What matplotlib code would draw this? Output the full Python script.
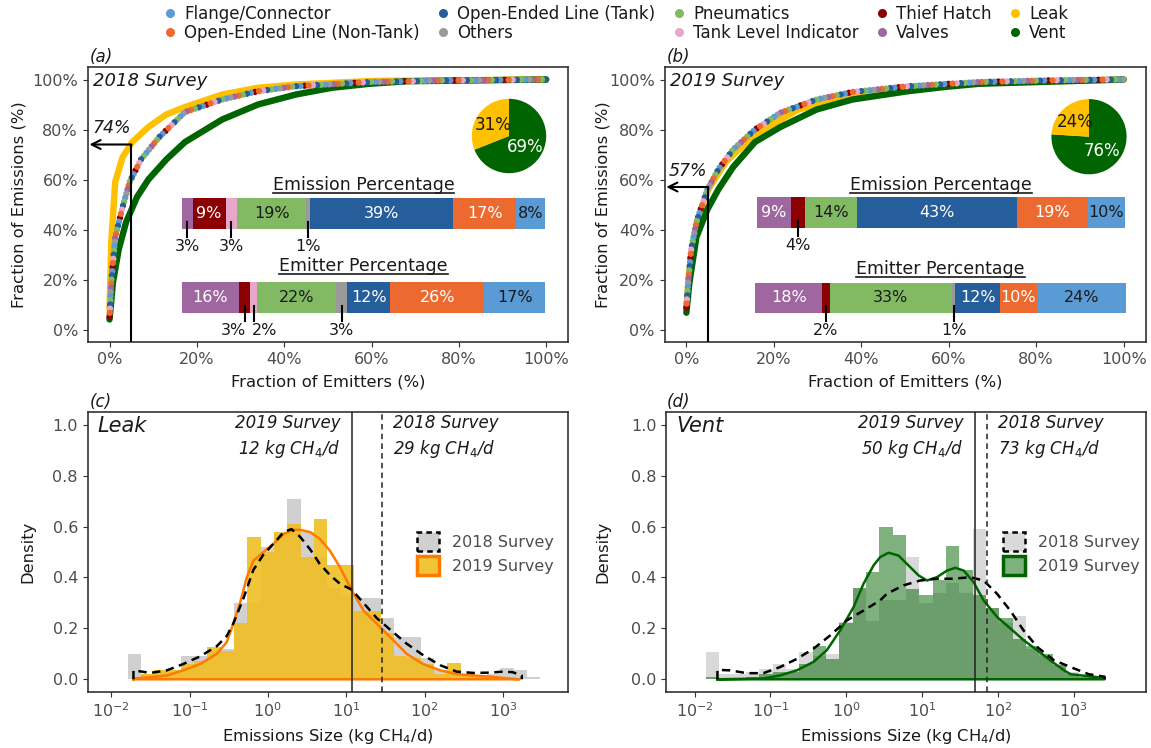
import numpy as np
import matplotlib
matplotlib.use('Agg')
import matplotlib.pyplot as plt
from matplotlib.lines import Line2D
from matplotlib.patches import Patch
from matplotlib.transforms import IdentityTransform
from matplotlib.colors import to_rgba

plt.rcParams['font.family'] = ['DejaVu Sans']
plt.rcParams['lines.scale_dashes'] = False
plt.rcParams['mathtext.default'] = 'it'

# ---- categories / colours ----
legend_names = ['Flange/Connector', 'Open-Ended Line (Non-Tank)', 'Open-Ended Line (Tank)',
                'Others', 'Pneumatics', 'Tank Level Indicator', 'Thief Hatch', 'Valves',
                'Leak', 'Vent']
colors = {'Flange/Connector': '#5B9BD5', 'Open-Ended Line (Non-Tank)': '#EC6A2F',
          'Open-Ended Line (Tank)': '#265E9B', 'Others': '#9A9A9A', 'Pneumatics': '#82BA63',
          'Tank Level Indicator': '#E9A6CB', 'Thief Hatch': '#8B0000', 'Valves': '#9E679F',
          'Leak': '#FFC000', 'Vent': '#006400'}
dark = {'Open-Ended Line (Non-Tank)', 'Open-Ended Line (Tank)', 'Thief Hatch', 'Valves'}

# stacked bars, left to right
bar_order = ['Valves', 'Thief Hatch', 'Tank Level Indicator', 'Pneumatics', 'Others',
             'Open-Ended Line (Tank)', 'Open-Ended Line (Non-Tank)', 'Flange/Connector']
emission_2018 = [3, 9, 3, 19, 1, 39, 17, 8]
emitter_2018 = [16, 3, 2, 22, 3, 12, 26, 17]
emission_2019 = [9, 4, 0, 14, 0, 43, 19, 10]
emitter_2019 = [18, 2, 0, 33, 1, 12, 10, 24]

# leak / vent share of emissions
pie_2018 = [69, 31]   # vent, leak
pie_2019 = [76, 24]

# cumulative emission curves: % of emitters vs % of emissions
all18_x = [0, 0.4, 1.3, 3, 4.6, 7.2, 11.4, 17.3, 25.8, 34, 42.7, 59.6, 76.5, 100]
all18_y = [5, 19, 37, 49, 59, 68, 77, 87, 92, 95.3, 97.3, 99, 99.6, 100]
leak18_x = [0, 0.4, 1.3, 3, 5.2, 8.9, 13, 17.3, 25.8, 34, 42.7, 60, 100]
leak18_y = [8, 35, 59, 69, 75, 81, 86, 89, 94, 96.7, 98, 99.4, 100]
vent18_x = [0, 0.8, 2.1, 3.8, 6.3, 8.9, 13, 17.3, 25.8, 34, 42.7, 51, 59.6, 68, 100]
vent18_y = [4, 19, 32, 43, 53, 60, 68, 75, 84, 90, 94, 96.7, 98.3, 99.3, 100]

all19_x = [0, 0.4, 1.1, 2.3, 4.8, 7.3, 10.7, 15.7, 21.5, 29.8, 38, 50.6, 67, 84, 100]
all19_y = [8.7, 18.7, 32, 43, 56, 64, 72, 80, 86.7, 92, 95, 97.3, 99, 99.7, 100]
leak19_x = [0, 0.4, 1.1, 2.3, 5, 9, 15.7, 25.6, 38, 50.6, 67, 100]
leak19_y = [9, 18, 30, 41, 56, 67, 78, 88, 93.5, 96.5, 98.5, 100]
vent19_x = [0, 0.7, 2.3, 4.8, 7.3, 10.7, 15.7, 21.5, 29.8, 38, 50.6, 59, 67, 100]
vent19_y = [6.7, 18.7, 37, 48, 56, 65, 75, 81, 88, 92, 95.3, 97, 98.3, 100]

top5_2018 = 74
top5_2019 = 57

# histograms (log10 bins) and density curves
leak_bin_start, leak_bin_w = -1.792, 0.17
leak18_hist = [0.10, 0.02, 0.03, 0.03, 0.09, 0.09, 0.11, 0.12, 0.30, 0.30, 0.52, 0.57, 0.71,
               0.58, 0.48, 0.36, 0.33, 0.32, 0.32, 0.24, 0.165, 0.165, 0.085, 0.035, 0.03,
               0.015, 0.01, 0.02, 0.045, 0.035, 0.01]
leak19_hist = [0.0, 0.02, 0.035, 0.035, 0.06, 0.07, 0.125, 0.11, 0.22, 0.56, 0.50, 0.58, 0.61,
               0.48, 0.63, 0.45, 0.45, 0.27, 0.27, 0.18, 0.09, 0.085, 0.06, 0.02, 0.065, 0.02,
               0.01, 0.005, 0.005, 0.0, 0.0]
leak18_kde_x = [-1.716, -1.50, -1.29, -1.08, -0.865, -0.652, -0.525, -0.44, -0.31, -0.185,
                -0.057, 0.07, 0.20, 0.30, 0.41, 0.54, 0.66, 0.79, 0.92, 1.07, 1.22, 1.39,
                1.56, 1.77, 1.98, 2.20, 2.41, 2.62, 2.83, 3.0, 3.12, 3.24]
leak18_kde_y = [0.035, 0.025, 0.035, 0.06, 0.09, 0.13, 0.17, 0.22, 0.32, 0.43, 0.49, 0.532,
                0.578, 0.59, 0.56, 0.51, 0.454, 0.41, 0.375, 0.352, 0.30, 0.24, 0.195, 0.14,
                0.095, 0.055, 0.03, 0.025, 0.026, 0.03, 0.028, 0.015]
leak19_kde_x = [-1.716, -1.50, -1.29, -1.08, -0.865, -0.652, -0.525, -0.44, -0.355, -0.27,
                -0.185, -0.057, 0.07, 0.20, 0.32, 0.41, 0.54, 0.66, 0.79, 0.92, 1.07, 1.22,
                1.39, 1.56, 1.77, 1.98, 2.20, 2.41, 2.62, 2.85, 3.0, 3.21]
leak19_kde_y = [0.003, 0.008, 0.015, 0.035, 0.06, 0.10, 0.146, 0.22, 0.30, 0.40, 0.466, 0.50,
                0.532, 0.57, 0.587, 0.587, 0.578, 0.552, 0.506, 0.44, 0.349, 0.27, 0.218,
                0.166, 0.10, 0.06, 0.035, 0.02, 0.015, 0.01, 0.005, 0.0]

vent_bin_start, vent_bin_w = -1.851, 0.176
vent18_hist = [0.107, 0.02, 0.02, 0.03, 0.04, 0.06, 0.04, 0.108, 0.09, 0.10, 0.225, 0.36, 0.23,
               0.31, 0.31, 0.48, 0.30, 0.34, 0.38, 0.34, 0.59, 0.28, 0.22, 0.25, 0.12, 0.09,
               0.06, 0.03, 0.015, 0.01]
vent19_hist = [0.01, 0.0, 0.0, 0.01, 0.02, 0.03, 0.03, 0.06, 0.13, 0.08, 0.22, 0.36, 0.42,
               0.60, 0.565, 0.355, 0.33, 0.39, 0.525, 0.43, 0.33, 0.28, 0.24, 0.16, 0.13, 0.10,
               0.055, 0.02, 0.01, 0.005]
vent18_kde_x = [-1.70, -1.534, -1.313, -1.094, -0.873, -0.653, -0.433, -0.213, 0.008, 0.228,
                0.448, 0.536, 0.756, 0.976, 1.196, 1.416, 1.637, 1.813, 1.99, 2.165, 2.34,
                2.52, 2.74, 2.96, 3.2, 3.41]
vent18_kde_y = [0.037, 0.035, 0.024, 0.024, 0.048, 0.08, 0.12, 0.172, 0.231, 0.27, 0.31,
                0.336, 0.369, 0.388, 0.395, 0.395, 0.401, 0.388, 0.336, 0.27, 0.192, 0.127,
                0.075, 0.048, 0.02, 0.01]
vent19_kde_x = [-1.70, -1.094, -0.873, -0.653, -0.433, -0.257, -0.08, 0.096, 0.228, 0.36,
                0.448, 0.558, 0.69, 0.822, 0.955, 1.065, 1.196, 1.33, 1.44, 1.55, 1.68, 1.813,
                1.99, 2.165, 2.34, 2.52, 2.69, 2.87, 2.96, 3.41]
vent19_kde_y = [0.0, 0.003, 0.015, 0.035, 0.068, 0.114, 0.192, 0.283, 0.375, 0.447, 0.48,
                0.497, 0.486, 0.447, 0.408, 0.388, 0.401, 0.427, 0.438, 0.427, 0.382, 0.31,
                0.245, 0.2, 0.154, 0.114, 0.075, 0.036, 0.02, 0.005]

median_leak = {'2019': 12, '2018': 29}
median_vent = {'2019': 50, '2018': 73}

# ---- figure ----
W, H = 1151, 748
fig = plt.figure(figsize=(W / 100, H / 100), dpi=100)


def px_box(left, top, right, bottom):
    return [left / W, 1 - bottom / H, (right - left) / W, (bottom - top) / H]


ax_a = fig.add_axes(px_box(87.7, 67, 568, 342))
ax_b = fig.add_axes(px_box(664.5, 67, 1145.5, 342))
ax_c = fig.add_axes(px_box(87.7, 412, 568, 692))
ax_d = fig.add_axes(px_box(666.3, 412, 1145.5, 692))

TICK_COL = '#4D4D4D'


def style_axes(ax):
    for s in ax.spines.values():
        s.set_color('#333333')
        s.set_linewidth(1.2)
    ax.tick_params(colors='#333333', labelcolor=TICK_COL, labelsize=11.5, length=3.5, width=0.8)


underlined = []


def dotted_multicolor(ax, x, y, cats, lw=4.6, step=3.0):
    # one dash pattern per colour, shifted so the dots interleave along the curve
    period = step * len(cats)
    for i, c in enumerate(cats):
        ax.plot(x, y, color=colors[c], lw=lw, dash_capstyle='round',
                linestyle=(i * step, (0.01, period - 0.01)), zorder=4)


dot_cycle = ['Thief Hatch', 'Flange/Connector', 'Open-Ended Line (Tank)', 'Pneumatics',
             'Open-Ended Line (Non-Tank)', 'Valves', 'Others', 'Flange/Connector',
             'Pneumatics', 'Open-Ended Line (Tank)', 'Tank Level Indicator',
             'Open-Ended Line (Non-Tank)']


def stacked_bar(ax, values, x0, x1, y0, y1, title, title_y):
    scale = (x1 - x0) / sum(values)
    yc, h = (y0 + y1) / 2, y1 - y0
    left = x0
    small = []
    for cat, v in zip(bar_order, values):
        if v == 0:
            continue
        w = v * scale
        ax.barh(yc, w, left=left, height=h, color=colors[cat], edgecolor='none', zorder=5)
        cx = left + w / 2
        if v >= 5:
            ax.text(cx, yc, f'{v}%', ha='center', va='center', fontsize=11.5, zorder=6,
                    color='white' if cat in dark else '#1a1a1a')
        else:
            small.append([cx, cx, v])
        left += w
    # spread neighbouring small labels apart
    for a, b in zip(small[:-1], small[1:]):
        gap = b[1] - a[1]
        if gap < 7:
            a[1] -= (7 - gap) / 2
            b[1] += (7 - gap) / 2
    for cx, lx, v in small:
        ax.plot([cx, cx], [y0 + 2.7, y0 - 3.2], color='black', lw=1.5, zorder=6)
        ax.text(lx, y0 - 7.3, f'{v}%', ha='center', va='center', fontsize=11.5, color='#1a1a1a')
    t = ax.text((x0 + x1) / 2, title_y, title, ha='center', va='center', fontsize=12.5,
                color='#1a1a1a')
    underlined.append(t)


def pie_inset(cx, cy, r, vals):
    pax = fig.add_axes(px_box(cx - r, cy - r, cx + r, cy + r))
    wedges, _, autot = pax.pie(vals, colors=[colors['Vent'], colors['Leak']], startangle=90,
                               counterclock=False, autopct='%.0f%%', pctdistance=0.52,
                               wedgeprops=dict(linewidth=0))
    autot[0].set_color('white')
    autot[1].set_color('#1a1a1a')
    for t in autot:
        t.set_fontsize(12)
    pax.set_aspect('equal')


def cumulative_panel(ax, survey, allx, ally, lx, ly, vx, vy, top5, ems, emt, ety_e, ety_t):
    ax.plot(lx, ly, color=colors['Leak'], lw=4.6, solid_capstyle='round', zorder=2)
    ax.plot(vx, vy, color=colors['Vent'], lw=4.6, solid_capstyle='round', zorder=3)
    dotted_multicolor(ax, allx, ally, dot_cycle)
    ax.set_xlim(-5, 105)
    ax.set_ylim(-5, 105)
    ticks = [0, 20, 40, 60, 80, 100]
    ax.set_xticks(ticks, [f'{t}%' for t in ticks])
    ax.set_yticks(ticks, [f'{t}%' for t in ticks])
    ax.set_xlabel('Fraction of Emitters (%)', fontsize=11.8, color='#1a1a1a')
    ax.set_ylabel('Fraction of Emissions (%)', fontsize=11.8, color='#1a1a1a')
    ax.text(-3.8, 99.3, survey, fontsize=13, style='italic', va='center', color='#1a1a1a')
    # top 5% of emitters
    ax.plot([5, 5], [-5, top5], color='black', lw=1.5, zorder=7)
    ax.annotate('', xy=(-4.6, top5), xytext=(5, top5),
                arrowprops=dict(arrowstyle='->', lw=1.5, color='black', mutation_scale=16,
                                shrinkA=0, shrinkB=0), zorder=7)
    ax.text(0.4, top5 + 6.5, f'{top5}%', fontsize=12.5, style='italic', ha='center',
            va='center', color='#1a1a1a')
    stacked_bar(ax, ems, ety_e[0], ety_e[1], ety_e[2], ety_e[3], 'Emission Percentage', ety_e[4])
    stacked_bar(ax, emt, ety_t[0], ety_t[1], ety_t[2], ety_t[3], 'Emitter Percentage', ety_t[4])
    style_axes(ax)


cumulative_panel(ax_a, '2018 Survey', all18_x, all18_y, leak18_x, leak18_y, vent18_x, vent18_y,
                 top5_2018, emission_2018, emitter_2018,
                 (16.5, 99.8, 40.4, 52.8, 58.0), (16.5, 99.8, 6.8, 19.2, 25.6))
cumulative_panel(ax_b, '2019 Survey', all19_x, all19_y, leak19_x, leak19_y, vent19_x, vent19_y,
                 top5_2019, emission_2019, emitter_2019,
                 (16.2, 100.3, 40.7, 52.9, 58.0), (15.8, 100.5, 6.8, 18.8, 24.4))
ax_a.yaxis.set_label_coords(-0.128, 0.5)
ax_b.yaxis.set_label_coords(-0.113, 0.5)
for ax in (ax_a, ax_b):
    ax.xaxis.set_label_coords(0.5, -0.118)

pie_inset(509, 136, 46.5, pie_2018)
pie_inset(1089, 136.7, 47, pie_2019)


def hist_panel(ax, start, width, h18, h19, k18x, k18y, k19x, k19y, fill19, fill_alpha,
               line19, med, name, xlim, grey, leg_x):
    edges = start + width * np.arange(len(h18) + 1)
    lo, hi = 10 ** edges[:-1], 10 ** edges[1:]
    ax.bar(lo, h18, width=hi - lo, align='edge', color=grey, edgecolor='none', zorder=1)
    edges19 = start + width * np.arange(len(h19) + 1)
    lo19, hi19 = 10 ** edges19[:-1], 10 ** edges19[1:]
    ax.bar(lo19, h19, width=hi19 - lo19, align='edge', color=fill19, alpha=fill_alpha,
           edgecolor='none', zorder=2)
    kx = np.concatenate([[k18x[0]], k18x, [k18x[-1]]])
    ky = np.concatenate([[0], k18y, [0]])
    ax.plot(10 ** kx, ky, color='black', lw=1.8, linestyle=(0, (6, 4)), zorder=4)
    kx = np.concatenate([[k19x[0]], k19x, [k19x[-1], k19x[0]]])
    ky = np.concatenate([[0], k19y, [0, 0]])
    ax.plot(10 ** kx, ky, color=line19, lw=1.8, zorder=3)
    ax.axvline(med['2019'], color='#222222', lw=1.1, zorder=5)
    ax.axvline(med['2018'], color='#222222', lw=1.1, linestyle=(0, (4, 3)), zorder=5)
    ax.annotate(f'2019 Survey\n{med["2019"]} kg CH$_4$/d', xy=(med['2019'], 0.992),
                xycoords=('data', 'axes fraction'), xytext=(-8.5, 0), textcoords='offset points',
                ha='right', va='top', fontsize=12, style='italic', linespacing=1.35,
                color='#1a1a1a')
    ax.annotate(f'2018 Survey\n{med["2018"]} kg CH$_4$/d', xy=(med['2018'], 0.992),
                xycoords=('data', 'axes fraction'), xytext=(7.5, 0), textcoords='offset points',
                ha='left', va='top', fontsize=12, style='italic', linespacing=1.35,
                color='#1a1a1a')
    ax.text(0.02, 0.985, name, transform=ax.transAxes, fontsize=15, style='italic',
            ha='left', va='top', color='#1a1a1a')
    ax.set_xscale('log')
    ax.set_xlim(10 ** xlim[0], 10 ** xlim[1])
    ax.set_xticks([10.0 ** p for p in range(-2, 4)])
    ax.minorticks_off()
    ax.set_ylim(-0.05, 1.05)
    ax.set_yticks([0, 0.2, 0.4, 0.6, 0.8, 1.0], ['0.0', '0.2', '0.4', '0.6', '0.8', '1.0'])
    ax.set_xlabel('Emissions Size (kg CH$_4$/d)', fontsize=11.8, color='#1a1a1a')
    ax.set_ylabel('Density', fontsize=11.8, color='#1a1a1a')
    handles = [Patch(facecolor=grey, edgecolor='black', linestyle=(0, (4, 3)), linewidth=1.8),
               Patch(facecolor=to_rgba(fill19, fill_alpha), edgecolor=line19, linewidth=2.5)]
    ax.legend(handles, ['2018 Survey', '2019 Survey'], loc='center left',
              bbox_to_anchor=(leg_x, 0.495), frameon=False,
              fontsize=11.5, handlelength=1.4, handleheight=1.4, handletextpad=0.8,
              labelspacing=0.35, labelcolor=TICK_COL)
    style_axes(ax)
    ax.xaxis.set_label_coords(0.5, -0.125)


hist_panel(ax_c, leak_bin_start, leak_bin_w, leak18_hist, leak19_hist, leak18_kde_x,
           leak18_kde_y, leak19_kde_x, leak19_kde_y, '#F0BD1E', 0.88, '#FF7A00', median_leak,
           'Leak', (-2.30, 3.83), '#D0D0D0', 0.655)
hist_panel(ax_d, vent_bin_start, vent_bin_w, vent18_hist, vent19_hist, vent18_kde_x,
           vent18_kde_y, vent19_kde_x, vent19_kde_y, '#006400', 0.5, '#006400', median_vent,
           'Vent', (-2.375, 3.95), '#D9D9D9', 0.672)
ax_c.yaxis.set_label_coords(-0.108, 0.5)
ax_d.yaxis.set_label_coords(-0.116, 0.5)

# panel tags
for x, y, tag in [(90, 57, '(a)'), (667, 57, '(b)'), (90, 402, '(c)'), (667, 402, '(d)')]:
    fig.text(x / W, 1 - y / H, tag, fontsize=12, style='italic', va='center', ha='left',
             color='#1a1a1a')

# category legend
handles = [Line2D([], [], marker='o', linestyle='none', markersize=6.5,
                  markerfacecolor=colors[n], markeredgecolor='none') for n in legend_names]
fig.legend(handles, legend_names, loc='center', bbox_to_anchor=(0.535, 1 - 23.5 / H), ncol=5,
           frameon=False, fontsize=12, handlelength=0.8, handletextpad=0.45,
           columnspacing=1.0, labelspacing=0.05, labelcolor='#1a1a1a')

# underline the bar titles
fig.canvas.draw()
renderer = fig.canvas.get_renderer()
for t in underlined:
    bb = t.get_window_extent(renderer)
    fig.add_artist(Line2D([bb.x0, bb.x1], [bb.y0 + 1.0, bb.y0 + 1.0], transform=IdentityTransform(),
                          color='#1a1a1a', lw=1.2))

fig.savefig('out.png', dpi=100)
